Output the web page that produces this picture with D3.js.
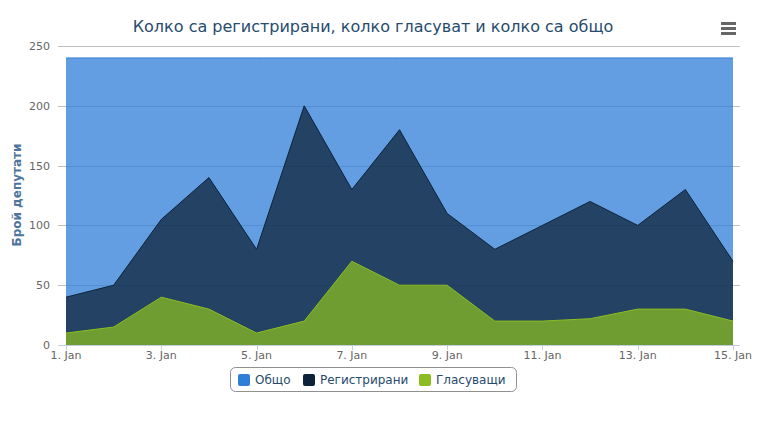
<!DOCTYPE html>
<html><head><meta charset="utf-8">
<script src="https://cdn.jsdelivr.net/npm/d3@7"></script>
<style>body{margin:0;background:#fff;font-family:"DejaVu Sans",sans-serif;}</style>
</head><body><svg id="c" width="765" height="429"></svg>
<script>
const days = [1,2,3,4,5,6,7,8,9,10,11,12,13,14,15];
const tickDays = [1,3,5,7,9,11,13,15];
const yTicks = [0,50,100,150,200,250];
const seriesNames = ["Общо","Регистрирани","Гласуващи"];
const seriesColors = ["#2f7ed8","#0d233a","#8bbc21"];
const total = [240,240,240,240,240,240,240,240,240,240,240,240,240,240,240];
const registered = [40,50,105,140,80,200,130,180,110,80,100,120,100,130,70];
const voting = [10,15,40,30,10,20,70,50,50,20,20,22,30,30,20];
const values = [total, registered, voting];

(function(){
const svg = d3.select("#c");
const pLeft = 58, pRight = 740, pTop = 46, pBottom = 345;
const x = d3.scaleLinear().domain([1,15]).range([66,733]);
const y = d3.scaleLinear().domain([0,250]).range([pBottom, pTop]);

// grid
svg.append("g").selectAll("line").data(yTicks).join("line")
  .attr("x1", pLeft).attr("x2", pRight)
  .attr("y1", d=>Math.round(y(d))+0.5).attr("y2", d=>Math.round(y(d))+0.5)
  .attr("stroke", "#C0C0C0").attr("stroke-width",1);

// areas
values.forEach((vals,i)=>{
  const data = days.map((d,j)=>({d, v: vals[j]}));
  const area = d3.area().x(p=>x(p.d)).y0(y(0)).y1(p=>y(p.v));
  const line = d3.line().x(p=>x(p.d)).y(p=>y(p.v));
  svg.append("path").datum(data).attr("d", area)
    .attr("fill", seriesColors[i]).attr("fill-opacity", 0.75);
  svg.append("path").datum(data).attr("d", line)
    .attr("fill","none").attr("stroke", seriesColors[i]).attr("stroke-width",1);
});

// x axis
const xAxis = svg.append("g");
xAxis.append("line").attr("x1", pLeft).attr("x2", pRight).attr("y1", pBottom+0.5).attr("y2", pBottom+0.5)
  .attr("stroke","#C0D0E0");
xAxis.selectAll("line.t").data(tickDays).join("line").attr("class","t")
  .attr("x1", d=>Math.round(x(d))+0.5).attr("x2", d=>Math.round(x(d))+0.5)
  .attr("y1", pBottom).attr("y2", pBottom+5).attr("stroke","#C0D0E0");
xAxis.selectAll("text").data(tickDays).join("text")
  .attr("x", d=>x(d)).attr("y", pBottom+14).attr("text-anchor","middle")
  .attr("font-size","11px").attr("fill","#666").text(d=>d+". Jan");

// y labels
svg.append("g").selectAll("text").data(yTicks).join("text")
  .attr("x", 50).attr("y", d=>y(d)+4).attr("text-anchor","end")
  .attr("font-size","11px").attr("fill","#666").text(d=>d);

// y title
svg.append("text").attr("transform","translate(21,195) rotate(-90)")
  .attr("text-anchor","middle").attr("font-size","12px").attr("font-weight","bold")
  .attr("fill","#4d759e").text("Брой депутати");

// title
svg.append("text").attr("x", 373).attr("y", 32).attr("text-anchor","middle")
  .attr("font-size","16px").attr("fill","#274b6d")
  .text("Колко са регистрирани, колко гласуват и колко са общо");

// menu icon
[0,5,10].forEach(o=>svg.append("rect").attr("x",721).attr("y",22+o).attr("width",15).attr("height",3)
  .attr("fill","#666"));

// legend
const lg = svg.append("g");
lg.append("rect").attr("x",230.5).attr("y",367.5).attr("width",286).attr("height",24).attr("rx",5)
  .attr("fill","none").attr("stroke","#909090");
const itemX = [238, 303, 419];
seriesNames.forEach((n,i)=>{
  lg.append("rect").attr("x",itemX[i]).attr("y",374).attr("width",12).attr("height",12).attr("rx",2)
    .attr("fill",seriesColors[i]);
  lg.append("text").attr("x",itemX[i]+17).attr("y",384).attr("font-size","12px").attr("fill","#274b6d").text(n);
});
})();
</script></body></html>
